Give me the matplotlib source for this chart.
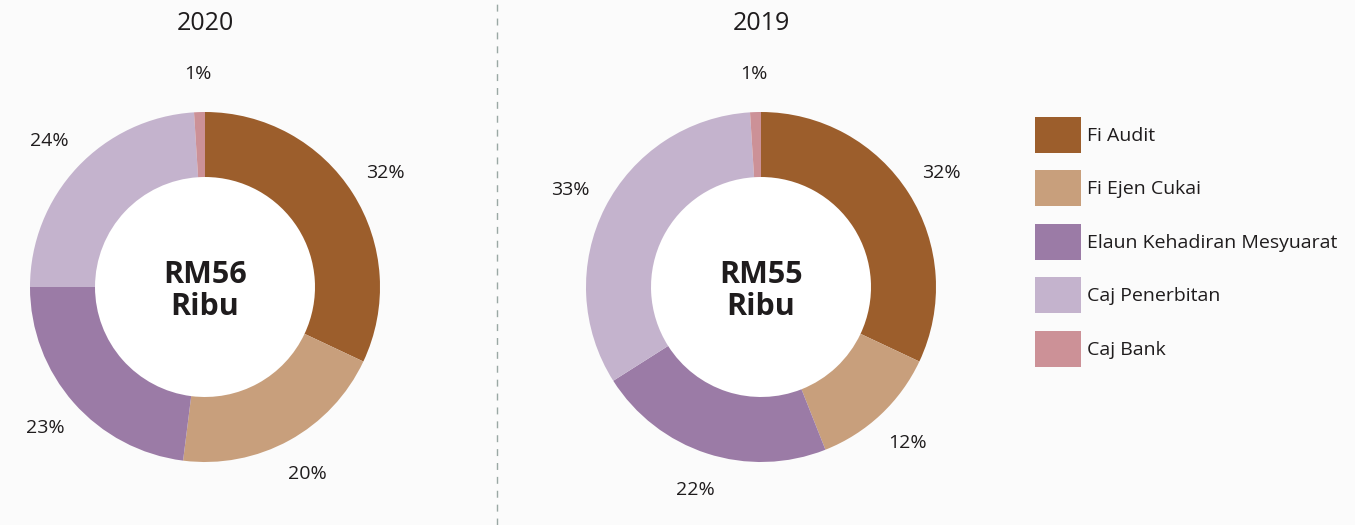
import matplotlib
matplotlib.use("Agg")
import matplotlib.pyplot as plt
from matplotlib.patches import Patch, Circle
import numpy as np

plt.rcParams['font.family'] = ['Open Sans', 'DejaVu Sans']

categories = ["Fi Audit", "Fi Ejen Cukai", "Elaun Kehadiran Mesyuarat", "Caj Penerbitan", "Caj Bank"]
colors = ["#9c5e2c", "#c89f7c", "#9b7ba6", "#c4b3cd", "#cc9197"]
years = ["2020", "2019"]
values_2020 = [32, 20, 23, 24, 1]
values_2019 = [32, 12, 22, 33, 1]
totals = ["RM56\nRibu", "RM55\nRibu"]

W, H = 1355, 525
fig = plt.figure(figsize=(W / 100, H / 100), dpi=100)
fig.patch.set_facecolor("#fbfbfb")
ax = fig.add_axes([0, 0, 1, 1])

txt = "#1f1c1d"
R = 175
ring = 65
centers = [(205, H - 287), (761, H - 287)]

for (cx, cy), year, vals, tot in zip(centers, years, [values_2020, values_2019], totals):
    ax.add_patch(Circle((cx, cy), R - ring, facecolor="white", edgecolor="none", zorder=0))
    wedges, _ = ax.pie(vals, colors=colors, startangle=90, counterclock=False,
                       radius=R, center=(cx, cy), frame=True,
                       wedgeprops=dict(width=ring, edgecolor="none", linewidth=0))
    for w, v in zip(wedges, vals):
        mid = np.deg2rad((w.theta1 + w.theta2) / 2)
        d = 1.22 * R
        ax.text(cx + d * np.cos(mid), cy + d * np.sin(mid), f"{v}%",
                ha="center", va="center", fontsize=14, color=txt)
    ax.text(cx, cy - 4, tot, ha="center", va="center", fontsize=22, fontweight="bold",
            color=txt, linespacing=1.08)
    ax.text(cx, H - 23, year, ha="center", va="center", fontsize=18, color=txt)

ax.set_xlim(0, W)
ax.set_ylim(0, H)
ax.set_aspect("equal")
ax.axis("off")

ax.plot([497, 497], [0, H], linestyle=(0, (5, 5)), color="#9aa8a4", linewidth=1)

handles = [Patch(facecolor=c, edgecolor="none") for c in colors]
fig.legend(handles, categories, loc="upper left",
           bbox_to_anchor=(1035 / W, 1 - 117 / H), frameon=False, fontsize=14,
           handlelength=2.37, handleheight=2.47, labelspacing=0.9,
           handletextpad=0.3, borderpad=0, borderaxespad=0, labelcolor=txt)

fig.savefig("out.png", dpi=100, facecolor=fig.get_facecolor())
